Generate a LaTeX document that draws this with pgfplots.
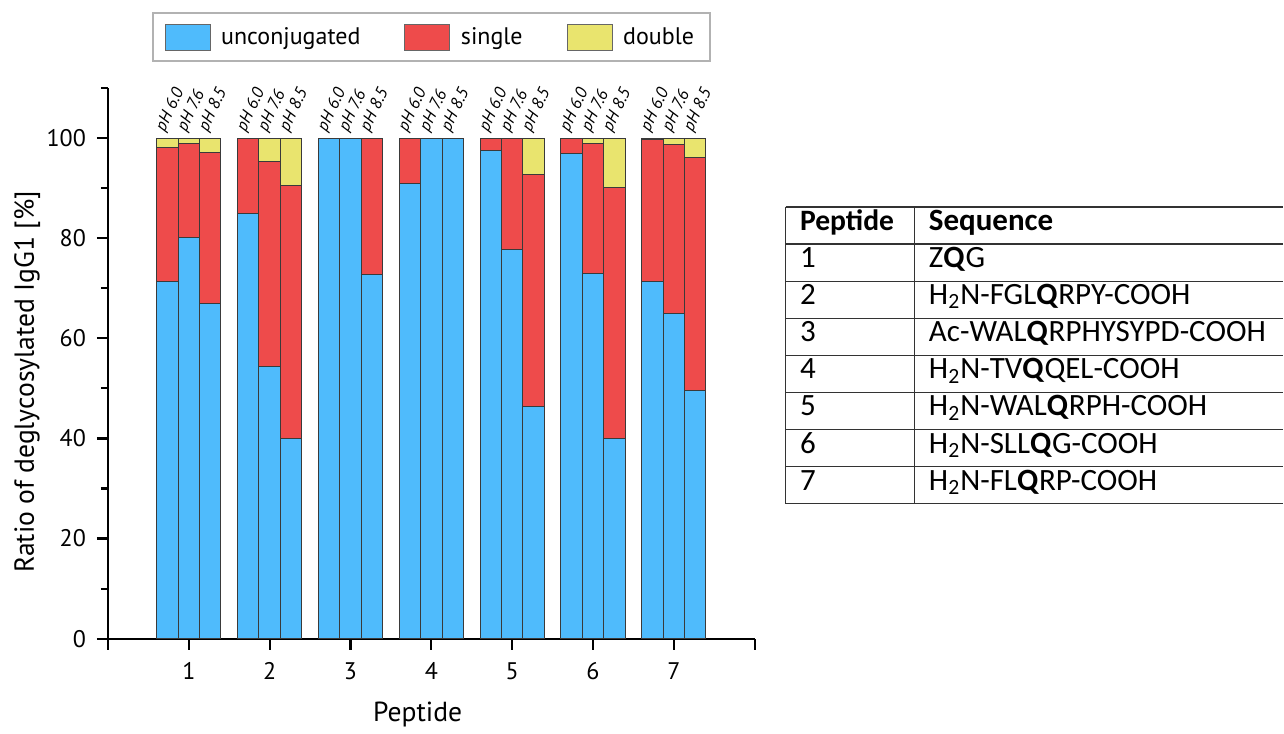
\documentclass[border=0pt]{standalone}
\usepackage{fontspec}
\setmainfont{PT Sans}
\newfontfamily\tablefont{Carlito}
\usepackage{pgfplots}
\usepackage{pgfplotstable}
\pgfplotsset{compat=1.18}
\definecolor{cblue}{HTML}{4FBBFC}
\definecolor{cred}{HTML}{EE4B4B}
\definecolor{cyel}{HTML}{E9E46E}
\definecolor{edge}{HTML}{3A3A3A}

\pgfplotstableread{
x blue red yel
0.735 71.4 26.8 1.8
1.000 80.2 18.8 1.0
1.265 67.0 30.1 2.9
1.735 84.9 15.1 0.0
2.000 54.3 41.1 4.6
2.265 40.0 50.5 9.5
2.735 100.0 0.0 0.0
3.000 100.0 0.0 0.0
3.265 72.8 27.2 0.0
3.735 90.9 9.1 0.0
4.000 100.0 0.0 0.0
4.265 100.0 0.0 0.0
4.735 97.5 2.5 0.0
5.000 77.7 22.3 0.0
5.265 46.3 46.4 7.3
5.735 96.9 3.1 0.0
6.000 72.9 26.0 1.1
6.265 40.0 50.2 9.8
6.735 71.4 28.3 0.3
7.000 65.0 33.8 1.2
7.265 49.5 46.7 3.8
}\data

\pgfplotsset{
  swatch/.style={legend image code/.code={\draw[##1, draw=gray!80!black, line width=0.5pt] (0pt,-6.5pt) rectangle (22.5pt,6.5pt); \path[draw=none, fill=none] (0pt,0pt) -- (26pt,0pt);}},
}

\begin{document}
\begin{tikzpicture}
\path (0,0) rectangle (642pt,364.5pt);
\begin{axis}[
  at={(54pt,45pt)}, anchor=south west,
  scale only axis, width=323.5pt, height=275.5pt,
  xmin=0, xmax=8, ymin=0, ymax=110,
  axis x line*=bottom, axis y line*=left,
  ybar stacked, bar width=0.265,
  clip=false,
  xtick={0,...,8}, xticklabels={,1,2,3,4,5,6,7,},
  ytick={0,20,...,100}, minor ytick={10,30,...,110},
  tick align=outside, major tick length=5.5pt, minor tick length=3.5pt,
  every tick/.style={black, line width=1.1pt},
  axis line style={line width=1.1pt},
  /pgf/number format/assume math mode=true,
  tick label style={font=\fontsize{12}{14}\selectfont},
  xticklabel style={yshift=-3pt},
  yticklabel style={xshift=-2pt},
  xlabel={Peptide}, ylabel={Ratio of deglycosylated IgG1 [\%]},
  label style={font=\fontsize{13.8}{16}\selectfont},
  xlabel style={at={(axis description cs:0.479,-0.138)}, anchor=center},
  ylabel style={at={(axis description cs:-0.125,0.466)}, anchor=center},
  legend columns=3,
  legend style={at={(0.5,1.0917)}, anchor=center, draw=gray!60, line width=1pt,
    font=\fontsize{12}{14}\selectfont, inner xsep=6pt, inner ysep=5pt,
    /tikz/every even column/.append style={column sep=20pt}},
  legend cell align=left,
]
\addplot[fill=cblue, draw=edge, line width=0.5pt, swatch] table[x=x, y=blue] {\data};
\addplot[fill=cred, draw=edge, line width=0.5pt, swatch] table[x=x, y=red] {\data};
\addplot[fill=cyel, draw=edge, line width=0.5pt, swatch] table[x=x, y=yel] {\data};
\legend{unconjugated, single, double}
\pgfplotsinvokeforeach{1,...,7}{
  \node[rotate=65, anchor=base west, inner sep=0pt, font=\fontsize{8.5}{10}\itshape] at (axis cs:#1-0.3,101) {pH 6.0};
  \node[rotate=65, anchor=base west, inner sep=0pt, font=\fontsize{8.5}{10}\itshape] at (axis cs:#1-0.035,101) {pH 7.6};
  \node[rotate=65, anchor=base west, inner sep=0pt, font=\fontsize{8.5}{10}\itshape] at (axis cs:#1+0.23,101) {pH 8.5};
}
\end{axis}
% table
\begin{scope}[font=\tablefont\fontsize{15.5}{18}\selectfont]
\draw[line width=0.6pt, black!80] (393pt,261pt) -- (393pt,112.5pt);
\draw[line width=0.6pt, black!80] (457.5pt,261pt) -- (457.5pt,112.5pt);
\foreach \i in {0,...,8} {
  \draw[line width=0.6pt, black!80] (393pt,261pt-\i*18.5625pt) -- (642pt,261pt-\i*18.5625pt);
}
\node[anchor=mid west, inner sep=0pt] at (400pt,261pt-0.5*18.5625pt) {\fontsize{14.8}{17}\selectfont\textbf{Peptide}};
\node[anchor=mid west, inner sep=0pt] at (464.5pt,261pt-0.5*18.5625pt) {\textbf{Sequence}};
\node[anchor=mid west, inner sep=0pt] at (400pt,261pt-1.5*18.5625pt) {1};
\node[anchor=mid west, inner sep=0pt] at (464.5pt,261pt-1.5*18.5625pt) {Z\textbf{Q}G};
\node[anchor=mid west, inner sep=0pt] at (400pt,261pt-2.5*18.5625pt) {2};
\node[anchor=mid west, inner sep=0pt] at (464.5pt,261pt-2.5*18.5625pt) {H\textsubscript{2}N-FGL\textbf{Q}RPY-COOH};
\node[anchor=mid west, inner sep=0pt] at (400pt,261pt-3.5*18.5625pt) {3};
\node[anchor=mid west, inner sep=0pt] at (464.5pt,261pt-3.5*18.5625pt) {Ac-WAL\textbf{Q}RPHYSYPD-COOH};
\node[anchor=mid west, inner sep=0pt] at (400pt,261pt-4.5*18.5625pt) {4};
\node[anchor=mid west, inner sep=0pt] at (464.5pt,261pt-4.5*18.5625pt) {H\textsubscript{2}N-TV\textbf{Q}QEL-COOH};
\node[anchor=mid west, inner sep=0pt] at (400pt,261pt-5.5*18.5625pt) {5};
\node[anchor=mid west, inner sep=0pt] at (464.5pt,261pt-5.5*18.5625pt) {H\textsubscript{2}N-WAL\textbf{Q}RPH-COOH};
\node[anchor=mid west, inner sep=0pt] at (400pt,261pt-6.5*18.5625pt) {6};
\node[anchor=mid west, inner sep=0pt] at (464.5pt,261pt-6.5*18.5625pt) {H\textsubscript{2}N-SLL\textbf{Q}G-COOH};
\node[anchor=mid west, inner sep=0pt] at (400pt,261pt-7.5*18.5625pt) {7};
\node[anchor=mid west, inner sep=0pt] at (464.5pt,261pt-7.5*18.5625pt) {H\textsubscript{2}N-FL\textbf{Q}RP-COOH};
\end{scope}
\end{tikzpicture}
\end{document}
